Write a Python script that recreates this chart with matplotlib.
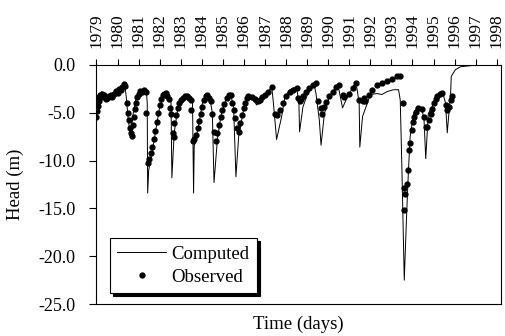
import matplotlib
matplotlib.use("Agg")
import matplotlib.pyplot as plt

plt.rcParams['font.family'] = ['Liberation Serif', 'DejaVu Serif']
plt.rcParams['axes.unicode_minus'] = False

# computed head (m) vs time (years)
comp_t = [1979.00, 1979.09, 1979.25, 1979.41, 1979.57, 1979.75, 1979.99, 1980.18, 1980.35,
          1980.43, 1980.51, 1980.62, 1980.75, 1980.90, 1981.06, 1981.37, 1981.41, 1981.42,
          1981.43, 1981.48, 1981.69, 1981.84, 1982.00, 1982.22, 1982.44, 1982.54, 1982.58,
          1982.69, 1982.85, 1983.17, 1983.40, 1983.56, 1983.61, 1983.64, 1983.87, 1984.03,
          1984.19, 1984.38, 1984.50, 1984.58, 1984.74, 1984.90, 1985.13, 1985.37, 1985.51,
          1985.62, 1985.75, 1985.98, 1986.22, 1986.45, 1986.61, 1986.84, 1987.08, 1987.32,
          1987.40, 1987.55, 1987.79, 1987.95, 1988.18, 1988.50, 1988.61, 1988.64, 1988.80,
          1989.03, 1989.34, 1989.42, 1989.58, 1989.66, 1989.82, 1990.05, 1990.37, 1990.51,
          1990.68, 1990.84, 1991.23, 1991.36, 1991.47, 1991.50, 1991.63, 1991.86, 1992.00,
          1992.32, 1992.55, 1992.79, 1993.10, 1993.34, 1993.42, 1993.50, 1993.61, 1993.73,
          1993.81, 1993.89, 1994.05, 1994.20, 1994.44, 1994.55, 1994.63, 1994.75, 1995.02,
          1995.33, 1995.46, 1995.57, 1995.65, 1995.81, 1995.84, 1996.04, 1996.28, 1996.91,
          1998.20]
comp_h = [-5.4, -3.7, -2.8, -3.3, -3.8, -3.5, -2.9, -2.4, -2.1,
          -3.7, -5.8, -7.3, -5.0, -3.3, -2.8, -2.8, -4.0, -8.9,
          -13.4, -11.0, -8.5, -6.5, -4.4, -3.0, -3.1, -4.0, -11.8,
          -7.1, -4.7, -3.3, -3.1, -4.0, -13.4, -8.5, -6.1, -4.0,
          -3.1, -3.5, -5.0, -12.3, -7.8, -5.4, -3.7, -3.1, -4.4,
          -11.7, -7.5, -4.7, -3.1, -3.7, -4.2, -3.3, -3.0, -2.3,
          -4.0, -7.8, -5.4, -3.3, -2.6, -2.3, -4.0, -7.0, -4.4,
          -3.0, -2.1, -3.0, -5.8, -8.4, -5.1, -3.3, -2.3, -2.6,
          -4.5, -3.7, -2.1, -2.4, -4.0, -8.6, -5.4, -4.0, -3.1,
          -3.0, -3.1, -2.8, -2.6, -2.6, -3.7, -11.0, -22.5, -15.2,
          -11.0, -7.5, -5.1, -4.5, -4.5, -5.8, -9.8, -5.1, -4.0,
          -2.8, -3.1, -4.0, -7.1, -3.0, -1.2, -0.5, -0.2, -0.05,
          0.0]

# observed head (m)
obs_t = [1979.00, 1979.03, 1979.06, 1979.10, 1979.14, 1979.18, 1979.22, 1979.27, 1979.32,
         1979.38, 1979.45, 1979.52, 1979.60, 1979.68, 1979.76, 1979.84, 1979.92, 1980.00,
         1980.08, 1980.15, 1980.22, 1980.30, 1980.36,
         1980.43, 1980.48, 1980.53, 1980.58, 1980.63, 1980.68, 1980.72, 1980.77, 1980.82,
         1980.87, 1980.93, 1981.00, 1981.08, 1981.16, 1981.25, 1981.33,
         1981.37, 1981.45, 1981.50, 1981.57, 1981.64, 1981.72, 1981.79, 1981.86, 1981.93,
         1982.00, 1982.07, 1982.14, 1982.20, 1982.28, 1982.36, 1982.44,
         1982.50, 1982.54, 1982.62, 1982.66, 1982.70, 1982.77, 1982.85, 1982.93, 1983.01,
         1983.10, 1983.20, 1983.30, 1983.40, 1983.48, 1983.51,
         1983.59, 1983.64, 1983.72, 1983.80, 1983.87, 1983.95, 1984.03, 1984.11, 1984.18,
         1984.27, 1984.35, 1984.42,
         1984.50, 1984.58, 1984.66, 1984.74, 1984.82, 1984.90, 1984.98, 1985.06, 1985.21,
         1985.30, 1985.37,
         1985.43, 1985.51, 1985.59, 1985.67, 1985.75, 1985.83, 1985.90, 1985.98, 1986.06,
         1986.13, 1986.21, 1986.37, 1986.53, 1986.69, 1986.77, 1986.85, 1987.00, 1987.16,
         1987.32,
         1987.48, 1987.55, 1987.71, 1987.86, 1988.02, 1988.18, 1988.34, 1988.50,
         1988.56, 1988.64, 1988.72, 1988.80, 1988.95, 1989.11, 1989.27, 1989.42,
         1989.50, 1989.66, 1989.71, 1989.82, 1989.90, 1990.05, 1990.21, 1990.37, 1990.52,
         1990.68, 1990.76, 1991.00, 1991.16, 1991.31,
         1991.47, 1991.63, 1991.70, 1991.77, 1991.92, 1992.08, 1992.32, 1992.55, 1992.79,
         1993.02, 1993.26, 1993.39,
         1993.54, 1993.58, 1993.61, 1993.66, 1993.73, 1993.78, 1993.85, 1993.89, 1993.97,
         1994.02, 1994.08, 1994.17, 1994.28, 1994.44,
         1994.55, 1994.63, 1994.71, 1994.78, 1994.86, 1994.94, 1995.02, 1995.10, 1995.18,
         1995.33, 1995.41,
         1995.57, 1995.65, 1995.73, 1995.81, 1995.89]
obs_h = [-5.4, -4.8, -4.3, -3.8, -3.4, -3.1, -3.3, -3.0, -3.4,
         -3.2, -3.6, -3.5, -3.3, -3.1, -3.4, -3.0, -2.7, -2.9,
         -2.5, -2.6, -2.3, -2.0, -2.2,
         -4.0, -5.0, -5.8, -6.6, -7.1, -7.4, -6.3, -5.4, -4.6,
         -4.0, -3.4, -3.0, -2.7, -2.8, -2.6, -2.8,
         -5.0, -10.3, -9.8, -9.2, -8.6, -7.8, -6.9, -6.0, -5.0,
         -4.2, -3.6, -3.2, -3.0, -2.9, -3.3, -3.6,
         -4.5, -5.1, -7.1, -7.5, -6.1, -5.2, -4.5, -4.0, -3.7,
         -3.5, -3.3, -3.3, -3.5, -3.7, -4.7,
         -8.0, -7.8, -7.3, -6.6, -5.9, -5.1, -4.4, -3.7, -3.3,
         -3.2, -3.5, -3.8,
         -5.1, -7.0, -8.0, -7.1, -6.3, -5.4, -4.7, -4.1, -3.5,
         -3.1, -3.1,
         -4.0, -4.7, -5.6, -6.6, -7.0, -6.1, -5.2, -4.5, -4.0,
         -3.5, -3.3, -3.4, -3.6, -3.8, -3.7, -3.4, -3.1, -2.8,
         -2.3,
         -5.1, -5.2, -4.7, -4.0, -3.3, -2.8, -2.6, -2.4,
         -3.5, -3.8, -3.6, -3.3, -2.8, -2.4, -2.1, -1.9,
         -3.8, -4.5, -5.1, -4.4, -3.9, -3.3, -2.8, -2.3, -2.1,
         -3.1, -3.4, -3.0, -2.4, -1.9,
         -3.7, -3.8, -3.5, -3.8, -3.2, -2.6, -2.1, -1.9, -1.7,
         -1.5, -1.2, -1.2,
         -4.0, -12.9, -15.2, -13.5, -12.4, -11.0, -8.9, -8.2, -6.8,
         -6.0, -5.4, -4.9, -4.5, -4.6,
         -5.4, -6.5, -6.5, -5.8, -5.1, -4.6, -4.0, -3.6, -3.3,
         -3.0, -2.9,
         -4.2, -4.7, -4.4, -3.7, -3.3]

years = list(range(1979, 1999))

fig = plt.figure(figsize=(5.05, 3.36), dpi=100)
ax = fig.add_axes([0.191, 0.095, 0.801, 0.712])

ax.plot(comp_t, comp_h, color='black', lw=0.7, label='Computed')
ax.plot(obs_t, obs_h, ls='none', marker='o', ms=3.5, color='black', label='Observed')

ax.set_xlim(1979.0, 1998.2)
ax.set_ylim(-25, 0)
ax.set_yticks([0, -5, -10, -15, -20, -25])
ax.set_yticklabels(['%.1f' % v for v in [0, -5, -10, -15, -20, -25]])

ax.xaxis.tick_top()
ax.set_xticks(years)
ax.set_xticklabels([str(y) for y in years], rotation=90)
ax.tick_params(axis='x', direction='out', length=4, pad=8, labelsize=12.5,
               top=True, bottom=False, width=0.8)
ax.tick_params(axis='y', direction='out', length=5, pad=10, labelsize=13, width=0.8)

ax.set_ylabel('Head (m)', fontsize=13.5, labelpad=10)
ax.set_xlabel('Time (days)', fontsize=13.5, labelpad=8)
ax.xaxis.set_label_position('bottom')

for s in ax.spines.values():
    s.set_linewidth(0.8)

leg = ax.legend(loc='lower left', bbox_to_anchor=(0.033, 0.046), borderaxespad=0,
                numpoints=1, fontsize=13.5, fancybox=False, framealpha=1,
                edgecolor='black', handlelength=2.6, handletextpad=0.3,
                borderpad=0.4, labelspacing=0.3,
                shadow={'color': 'black', 'alpha': 1})
leg.get_frame().set_linewidth(0.8)

plt.savefig('out.png', dpi=100)
